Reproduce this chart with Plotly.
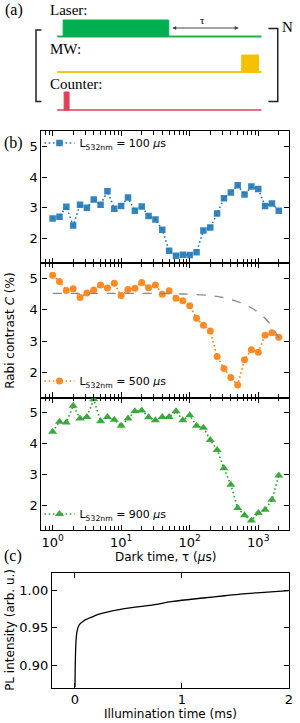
import plotly.graph_objects as go

W, H = 300, 723

# ---------------- data ----------------
tau_exp = [k / 10 for k in range(34)]           # log10 of dark time (0.1-decade steps)
tau = [10 ** e for e in tau_exp]                # 1 ... ~2000 us

c_100 = [2.65, 2.71, 3.03, 2.42, 3.10, 3.00, 3.27, 3.10, 3.54, 2.97,
         3.06, 3.33, 2.90, 3.04, 2.73, 2.62, 2.28, 1.60, 1.44, 1.47,
         1.46, 1.55, 2.26, 2.36, 2.81, 3.31, 3.50, 3.73, 3.43, 3.69,
         3.61, 3.06, 3.14, 2.90]
c_500 = [5.11, 4.91, 4.62, 4.68, 4.40, 4.54, 4.64, 4.80, 4.70, 4.85,
         4.46, 4.65, 4.69, 4.88, 4.71, 4.80, 4.50, 4.61, 4.37, 4.29,
         4.13, 3.73, 3.51, 3.33, 2.51, 2.13, 1.84, 1.60, 2.41, 2.73,
         2.65, 3.19, 3.27, 3.13]
c_900 = [4.39, 4.71, 4.69, 5.23, 4.82, 4.87, 5.44, 4.73, 4.87, 4.78,
         4.58, 4.82, 5.05, 5.08, 4.86, 4.76, 4.87, 4.87, 5.05, 4.76,
         4.92, 4.58, 4.52, 4.12, 3.80, 3.20, 2.67, 1.91, 1.68, 1.51,
         1.75, 1.86, 2.18, 2.97]

fit_tau = [1, 5, 20, 50, 100, 200, 300, 400, 600, 800, 1000, 1300, 1600, 2000]
fit_c = [4.53, 4.53, 4.53, 4.52, 4.50, 4.46, 4.40, 4.33, 4.20, 4.06, 3.92, 3.70, 3.45, 3.10]

pl_t = [0.0, 0.002, 0.006, 0.012, 0.02, 0.03, 0.045, 0.07, 0.10, 0.15, 0.22,
        0.30, 0.40, 0.53, 0.70, 0.90, 1.00, 1.20, 1.40, 1.60, 1.80, 2.00]
pl_i = [0.870, 0.895, 0.920, 0.937, 0.946, 0.951, 0.955, 0.958, 0.961, 0.964, 0.968,
        0.971, 0.974, 0.977, 0.980, 0.985, 0.987, 0.990, 0.993, 0.996, 0.998, 1.000]

legend_labels = ["L<sub>532nm</sub> = 100 <i>\u03bc</i>s",
                 "L<sub>532nm</sub> = 500 <i>\u03bc</i>s",
                 "L<sub>532nm</sub> = 900 <i>\u03bc</i>s"]

xmajor = [1, 10, 100, 1000]
xmajor_text = ["10<sup>0</sup>", "10<sup>1</sup>", "10<sup>2</sup>", "10<sup>3</sup>"]
xminor = [m * 10 ** d for d in range(-1, 4) for m in range(2, 10)]
ytickvals = [2, 3, 4, 5]

# pulse-sequence schematic (in schematic units, pixel-like)
line_start, line_end = 58, 265
laser_on = (64, 171)
mw_on = (245, 262)
counter_on = (65, 70)
rows = {"laser": 36.5, "mw": 72, "counter": 110}
pulse_h = {"laser": 16.5, "mw": 17, "counter": 18}
tau_arrow = (173, 242)

# ---------------- figure ----------------
fig = go.Figure()

def py(y):
    return 1 - y / H

def px(x):
    return x / W

BLUE, ORANGE, GREEN = "#1f77b4", "#ff7f0e", "#2ca02c"
SANS = "DejaVu Sans"
SERIF = "Liberation Serif"

series = [(c_100, BLUE, "square", 6.5, "x", "y", "legend"),
          (c_500, ORANGE, "circle", 7, "x2", "y2", "legend2"),
          (c_900, GREEN, "triangle-up", 8, "x3", "y3", "legend3")]
for i, (vals, col, sym, sz, xa, ya, lg) in enumerate(series):
    fig.add_trace(go.Scatter(
        x=tau, y=vals, mode="lines+markers", name=legend_labels[i],
        line=dict(color=col, width=1.6, dash="1.6px,2.6px"),
        marker=dict(color=col, symbol=sym, size=sz, opacity=0.9),
        xaxis=xa, yaxis=ya, legend=lg, showlegend=True))

fig.add_trace(go.Scatter(x=fit_tau, y=fit_c, mode="lines",
                         line=dict(color="#888888", width=1.3, dash="dash", shape="spline"),
                         xaxis="x2", yaxis="y2", showlegend=False))

fig.add_trace(go.Scatter(x=pl_t, y=pl_i, mode="lines",
                         line=dict(color="black", width=1.3, shape="spline"),
                         xaxis="x4", yaxis="y4", showlegend=False))

# schematic traces (axis x5/y5)
def add_row(key, on, lcol, pcol):
    y0 = rows[key]
    fig.add_trace(go.Scatter(x=[line_start, line_end], y=[y0, y0], mode="lines",
                             line=dict(color=lcol, width=1.8),
                             xaxis="x5", yaxis="y5", showlegend=False, hoverinfo="skip"))
    fig.add_trace(go.Scatter(x=[on[0], on[0], on[1], on[1], on[0]],
                             y=[y0, y0 - pulse_h[key], y0 - pulse_h[key], y0, y0],
                             mode="lines", fill="toself", fillcolor=pcol,
                             line=dict(color=pcol, width=1),
                             xaxis="x5", yaxis="y5", showlegend=False, hoverinfo="skip"))

add_row("laser", laser_on, "#1fb050", "#00b050")
add_row("mw", mw_on, "#f2c81e", "#f5c000")
add_row("counter", counter_on, "#e46f7f", "#e0405a")

# brackets
fig.add_trace(go.Scatter(x=[42, 36.5, 36.5, 42], y=[30, 30, 101.5, 101.5], mode="lines",
                         line=dict(color="#222", width=1.5), xaxis="x5", yaxis="y5",
                         showlegend=False, hoverinfo="skip"))
fig.add_trace(go.Scatter(x=[272, 281.5, 281.5, 272], y=[28.5, 28.5, 101.5, 101.5], mode="lines",
                         line=dict(color="#222", width=1.5), xaxis="x5", yaxis="y5",
                         showlegend=False, hoverinfo="skip"))

# ---------------- axes ----------------
xdom = [px(42), px(293)]
ydoms = [[py(263), py(131)], [py(397.5), py(263)], [py(530), py(397.5)]]
xr = [-0.163, 3.45]
yr = [1.2, 5.5]

common_x = dict(type="log", range=xr, domain=xdom, tickmode="array", tickvals=xmajor,
                ticktext=xmajor_text, ticks="inside", ticklen=5, tickwidth=1, tickcolor="black",
                minor=dict(tickmode="array", tickvals=xminor, ticks="inside", ticklen=3.5,
                           tickwidth=1, tickcolor="black", showgrid=False),
                showline=True, linecolor="black", linewidth=1.2, mirror="ticks",
                showgrid=False, zeroline=False,
                tickfont=dict(family=SANS, size=13, color="black"))
common_y = dict(range=yr, tickmode="array", tickvals=ytickvals, ticks="inside", ticklen=5,
                tickwidth=1, tickcolor="black", showline=True, linecolor="black",
                linewidth=1.2, mirror="ticks", showgrid=False, zeroline=False,
                tickfont=dict(family=SANS, size=13, color="black"))

fig.update_layout(
    xaxis=dict(common_x, anchor="y", showticklabels=False),
    yaxis=dict(common_y, anchor="x", domain=ydoms[0]),
    xaxis2=dict(common_x, anchor="y2", showticklabels=False, matches="x"),
    yaxis2=dict(common_y, anchor="x2", domain=ydoms[1]),
    xaxis3=dict(common_x, anchor="y3", showticklabels=True, matches="x"),
    yaxis3=dict(common_y, anchor="x3", domain=ydoms[2]),
    xaxis4=dict(range=[-0.215, 2.005], domain=[px(52.7), px(293.3)], anchor="y4",
                tickmode="array", tickvals=[0, 1, 2], ticks="inside", ticklen=5,
                tickcolor="black", showline=True, linecolor="black", linewidth=1.2,
                mirror="ticks", showgrid=False, zeroline=False,
                tickfont=dict(family=SANS, size=13, color="black")),
    yaxis4=dict(range=[0.8695, 1.024], domain=[py(687.7), py(572.7)], anchor="x4",
                tickmode="array", tickvals=[0.90, 0.95, 1.00], tickformat=".2f",
                ticks="inside", ticklen=5, tickcolor="black", showline=True,
                linecolor="black", linewidth=1.2, mirror="ticks", showgrid=False,
                zeroline=False, tickfont=dict(family=SANS, size=13, color="black")),
    xaxis5=dict(range=[0, W], domain=[0, 1], anchor="y5", visible=False, fixedrange=True),
    yaxis5=dict(range=[125, 0], domain=[py(125), 1], anchor="x5", visible=False, fixedrange=True),
)

leg_common = dict(font=dict(family=SANS, size=11, color="black"), bgcolor="rgba(0,0,0,0)",
                  borderwidth=0, xanchor="left", yanchor="middle", itemwidth=30,
                  tracegroupgap=0)
fig.update_layout(
    legend=dict(leg_common, x=px(40), y=py(143)),
    legend2=dict(leg_common, x=px(40), y=py(381)),
    legend3=dict(leg_common, x=px(40), y=py(514)),
)

ann = []
def text(x, y, s, size, family, angle=0, xanchor="center"):
    ann.append(dict(x=px(x), y=py(y), xref="paper", yref="paper", text=s, showarrow=False,
                    font=dict(family=family, size=size, color="black"), textangle=angle,
                    xanchor=xanchor, yanchor="middle"))

text(3, 10, "(a)", 16, SERIF, xanchor="left")
text(49, 10, "Laser:", 15, SERIF, xanchor="left")
text(49, 49, "MW:", 15, SERIF, xanchor="left")
text(49, 83.5, "Counter:", 15, SERIF, xanchor="left")
text(284, 27, "N", 15, SERIF, xanchor="left")
text(205, 20, "\u03c4", 11, SERIF)
text(2, 143, "(b)", 16, SERIF, xanchor="left")
text(2, 556, "(c)", 16, SERIF, xanchor="left")
text(10, 330, "Rabi contrast <i>C</i> (%)", 12, SANS, angle=-90)
text(167.5, 557, "Dark time, \u03c4 (<i>\u03bc</i>s)", 12, SANS)
text(10, 630, "PL intensity (arb. u.)", 12, SANS, angle=-90)
text(173, 713.5, "Illumination time (ms)", 12, SANS)

# tau double arrow in schematic axes
ann.append(dict(x=tau_arrow[1], y=28, ax=tau_arrow[0], ay=28, xref="x5", yref="y5",
                axref="x5", ayref="y5", showarrow=True, arrowhead=2, arrowside="end+start",
                arrowsize=0.8, arrowwidth=1, arrowcolor="#444", text=""))

fig.update_layout(annotations=ann, width=W, height=H,
                  margin=dict(l=0, r=0, t=0, b=0),
                  paper_bgcolor="white", plot_bgcolor="rgba(0,0,0,0)")

fig.write_html("out.html")
